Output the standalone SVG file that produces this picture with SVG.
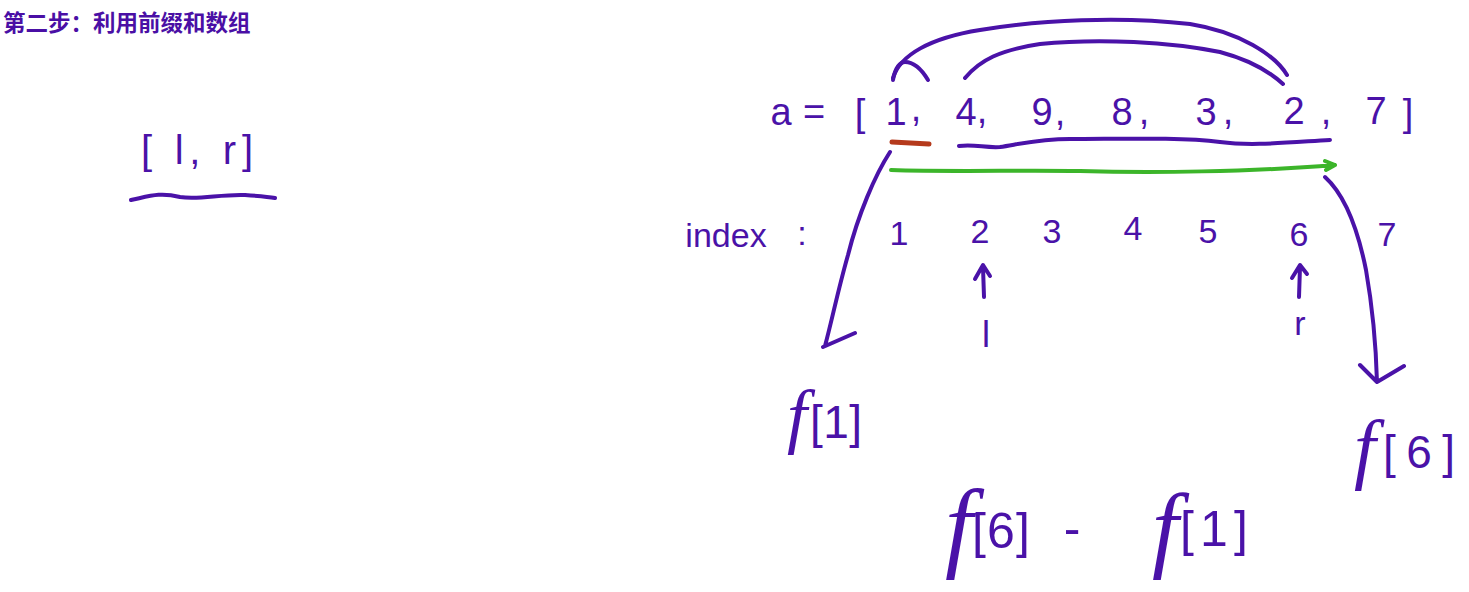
<svg xmlns="http://www.w3.org/2000/svg" width="1469" height="592" viewBox="0 0 1469 592">
<style>
.ink{fill:none;stroke:#4a12a8;stroke-width:4;stroke-linecap:round;stroke-linejoin:round}
.t{fill:#4a12a8;font-family:"Liberation Sans",Arial,sans-serif;text-anchor:middle}
.s{fill:#4a12a8;font-family:"Liberation Sans",Arial,sans-serif;text-anchor:start}
.f{fill:#4a12a8;font-family:"Liberation Serif",serif;font-style:italic;text-anchor:start}
.title{fill:#4a0fa5;font-family:"Liberation Sans","Noto Sans CJK SC",sans-serif;font-weight:bold;font-size:22.5px}
</style>
<rect width="1469" height="592" fill="#ffffff"/>
<text class="title" x="3" y="31">第二步：利用前缀和数组</text>

<g id="range">
<text class="t" x="197" y="164" font-size="40" textLength="112" lengthAdjust="spacing">[ l, r]</text>
<path class="ink" d="M131,200 C150,196 160,192 180,197 C200,200 220,194 245,195 C260,196 270,197 275,198"/>
</g>

<g id="array" class="t" font-size="38">
<text x="781" y="125">a</text>
<text x="814" y="125">=</text>
<text x="860" y="126">[</text>
<text x="896" y="125">1</text>
<text x="916" y="121">,</text>
<text x="966" y="125">4</text>
<text x="982" y="123">,</text>
<text x="1042" y="125">9</text>
<text x="1060" y="125">,</text>
<text x="1122" y="125">8</text>
<text x="1144" y="124">,</text>
<text x="1206" y="125">3</text>
<text x="1228" y="124">,</text>
<text x="1294" y="124">2</text>
<text x="1326" y="124">,</text>
<text x="1376" y="124">7</text>
<text x="1408" y="126">]</text>
</g>

<g id="index" class="t" font-size="34">
<text x="726" y="247">index</text>
<text x="802" y="245">:</text>
<text x="899" y="245">1</text>
<text x="980" y="243">2</text>
<text x="1052" y="243">3</text>
<text x="1133" y="240">4</text>
<text x="1208" y="243">5</text>
<text x="1299" y="246">6</text>
<text x="1387" y="246">7</text>
</g>

<g id="l-label" class="t" font-size="36"><text x="986" y="347">l</text></g>
<g id="r-label" class="t" font-size="34"><text x="1300" y="335">r</text></g>

<g id="f1">
<text class="f" x="787" y="440" font-size="72">f</text>
<text class="s" x="810" y="438" font-size="46" textLength="52" lengthAdjust="spacing">[1]</text>
</g>
<g id="f6">
<text class="f" x="1354" y="474" font-size="78">f</text>
<text class="s" x="1383" y="468" font-size="46" textLength="72" lengthAdjust="spacing">[6]</text>
</g>
<g id="diff">
<text class="f" x="945" y="559" font-size="100">f</text>
<text class="s" x="972" y="548" font-size="50" textLength="58" lengthAdjust="spacing">[6]</text>
<text class="t" x="1072" y="545" font-size="50">-</text>
<text class="f" x="1152" y="560" font-size="95">f</text>
<text class="s" x="1180" y="546" font-size="50" textLength="68" lengthAdjust="spacing">[1]</text>
</g>

<g id="connectors">
<path class="ink" d="M893,80 C895,68 900,62 905,62 C914,62 922,70 928,80"/>
<path class="ink" d="M893,78 C900,55 930,38 980,30 C1040,20 1120,16 1190,24 C1240,32 1275,55 1287,75"/>
<path class="ink" d="M965,78 C980,60 1000,50 1040,44 C1100,38 1170,42 1220,52 C1250,60 1270,72 1283,84"/>
<path d="M892,142 L929,144" fill="none" stroke="#b53a1c" stroke-width="5" stroke-linecap="round"/>
<path class="ink" d="M959,146 C975,144 985,148 1000,147 C1020,144 1040,139 1070,139 C1120,139 1180,137 1220,142 C1250,146 1280,143 1330,140"/>
<path d="M891,170 C950,172 1020,170 1080,171 C1150,173 1250,172 1335,165 M1335,165 L1325,161 M1335,165 L1326,170" fill="none" stroke="#3cb52a" stroke-width="4" stroke-linecap="round"/>
<path class="ink" d="M890,152 C875,175 858,215 848,255 C838,290 832,320 825,346 M823,347 L855,333"/>
<path class="ink" d="M1325,177 C1345,195 1358,230 1366,270 C1373,310 1376,345 1377,382 M1360,365 L1377,382 L1404,366"/>
<path class="ink" d="M984,297 L983,267 M975,279 L983,265 L990,276"/>
<path class="ink" d="M1299,297 L1300,267 M1292,278 L1300,265 L1307,274"/>
</g>
</svg>
